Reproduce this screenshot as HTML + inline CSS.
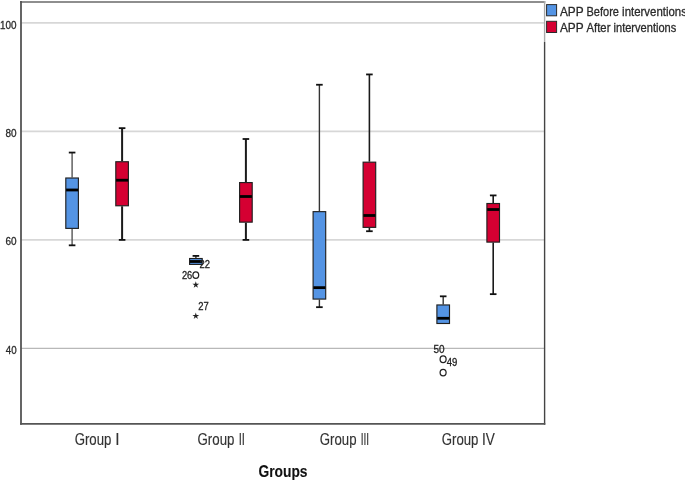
<!DOCTYPE html>
<html><head><meta charset="utf-8"><title>Box plot</title>
<style>
html,body{margin:0;padding:0;background:#fff;}
svg{display:block;font-family:"Liberation Sans",sans-serif;filter:blur(0.45px);}
</style></head>
<body>
<svg width="685" height="481" viewBox="0 0 685 481">
<rect x="0" y="0" width="685" height="481" fill="#fff"/>
<!-- gridlines -->
<line x1="21" y1="22.90" x2="544.6" y2="22.90" stroke="#d7d7d7" stroke-width="1.8"/>
<line x1="21" y1="131.40" x2="544.6" y2="131.40" stroke="#d7d7d7" stroke-width="1.8"/>
<line x1="21" y1="239.90" x2="544.6" y2="239.90" stroke="#d7d7d7" stroke-width="1.8"/>
<line x1="21" y1="348.40" x2="544.6" y2="348.40" stroke="#b8b8b8" stroke-width="1.2"/>
<!-- frame -->
<line x1="20.1" y1="1.9" x2="545.3" y2="1.9" stroke="#8e8e8e" stroke-width="2"/>
<line x1="544.6" y1="1" x2="544.6" y2="42" stroke="#aaa" stroke-width="1.4"/>
<line x1="544.6" y1="42" x2="544.6" y2="424.7" stroke="#444" stroke-width="1.4"/>
<line x1="21" y1="1" x2="21" y2="424.7" stroke="#555" stroke-width="1.8"/>
<line x1="20.1" y1="423.8" x2="545.3" y2="423.8" stroke="#555" stroke-width="1.8"/>
<!-- boxes -->
<line x1="72.10" y1="152.56" x2="72.10" y2="177.51" stroke="#555" stroke-width="1.4"/>
<line x1="72.10" y1="228.89" x2="72.10" y2="245.32" stroke="#555" stroke-width="1.4"/>
<line x1="68.80" y1="245.32" x2="75.40" y2="245.32" stroke="#111" stroke-width="1.8"/>
<line x1="68.80" y1="152.56" x2="75.40" y2="152.56" stroke="#111" stroke-width="1.8"/>
<rect x="65.80" y="178.01" width="12.60" height="50.37" fill="#5494e4" stroke="#202020" stroke-width="1.15"/>
<line x1="66.10" y1="189.99" x2="78.10" y2="189.99" stroke="#000" stroke-width="2.8"/>
<line x1="122.10" y1="128.15" x2="122.10" y2="161.24" stroke="#1a1a1a" stroke-width="2.0"/>
<line x1="122.10" y1="206.26" x2="122.10" y2="239.90" stroke="#1a1a1a" stroke-width="2.0"/>
<line x1="118.80" y1="239.90" x2="125.40" y2="239.90" stroke="#111" stroke-width="1.8"/>
<line x1="118.80" y1="128.15" x2="125.40" y2="128.15" stroke="#111" stroke-width="1.8"/>
<rect x="115.80" y="161.74" width="12.60" height="44.03" fill="#d50032" stroke="#202020" stroke-width="1.15"/>
<line x1="116.10" y1="180.22" x2="128.10" y2="180.22" stroke="#000" stroke-width="2.8"/>
<line x1="195.90" y1="255.90" x2="195.90" y2="258.02" stroke="#333" stroke-width="1.4"/>
<line x1="192.60" y1="255.90" x2="199.20" y2="255.90" stroke="#111" stroke-width="1.8"/>
<rect x="189.60" y="258.52" width="12.60" height="5.89" fill="#5494e4" stroke="#202020" stroke-width="1.15"/>
<line x1="189.90" y1="261.49" x2="201.90" y2="261.49" stroke="#000" stroke-width="2.8"/>
<line x1="245.90" y1="139.00" x2="245.90" y2="182.07" stroke="#1a1a1a" stroke-width="2.0"/>
<line x1="245.90" y1="222.65" x2="245.90" y2="239.90" stroke="#1a1a1a" stroke-width="2.0"/>
<line x1="242.60" y1="239.90" x2="249.20" y2="239.90" stroke="#111" stroke-width="1.8"/>
<line x1="242.60" y1="139.00" x2="249.20" y2="139.00" stroke="#111" stroke-width="1.8"/>
<rect x="239.60" y="182.57" width="12.60" height="39.58" fill="#d50032" stroke="#202020" stroke-width="1.15"/>
<line x1="239.90" y1="196.50" x2="251.90" y2="196.50" stroke="#000" stroke-width="2.8"/>
<line x1="319.40" y1="84.75" x2="319.40" y2="211.15" stroke="#333" stroke-width="1.4"/>
<line x1="319.40" y1="299.57" x2="319.40" y2="307.17" stroke="#333" stroke-width="1.4"/>
<line x1="316.10" y1="307.17" x2="322.70" y2="307.17" stroke="#111" stroke-width="1.8"/>
<line x1="316.10" y1="84.75" x2="322.70" y2="84.75" stroke="#111" stroke-width="1.8"/>
<rect x="313.10" y="211.65" width="12.60" height="87.43" fill="#5494e4" stroke="#202020" stroke-width="1.15"/>
<line x1="313.40" y1="287.64" x2="325.40" y2="287.64" stroke="#000" stroke-width="2.8"/>
<line x1="369.40" y1="74.44" x2="369.40" y2="161.67" stroke="#1a1a1a" stroke-width="1.6"/>
<line x1="369.40" y1="227.86" x2="369.40" y2="231.22" stroke="#1a1a1a" stroke-width="1.6"/>
<line x1="366.10" y1="231.22" x2="372.70" y2="231.22" stroke="#111" stroke-width="1.8"/>
<line x1="366.10" y1="74.44" x2="372.70" y2="74.44" stroke="#111" stroke-width="1.8"/>
<rect x="363.10" y="162.17" width="12.60" height="65.19" fill="#d50032" stroke="#202020" stroke-width="1.15"/>
<line x1="363.40" y1="215.49" x2="375.40" y2="215.49" stroke="#000" stroke-width="2.8"/>
<line x1="443.20" y1="296.32" x2="443.20" y2="304.46" stroke="#333" stroke-width="1.4"/>
<line x1="439.90" y1="296.32" x2="446.50" y2="296.32" stroke="#111" stroke-width="1.8"/>
<rect x="436.90" y="304.96" width="12.60" height="18.53" fill="#5494e4" stroke="#202020" stroke-width="1.15"/>
<line x1="437.20" y1="318.29" x2="449.20" y2="318.29" stroke="#000" stroke-width="2.8"/>
<line x1="493.20" y1="195.41" x2="493.20" y2="203.01" stroke="#1a1a1a" stroke-width="1.6"/>
<line x1="493.20" y1="242.61" x2="493.20" y2="294.15" stroke="#1a1a1a" stroke-width="1.6"/>
<line x1="489.90" y1="294.15" x2="496.50" y2="294.15" stroke="#111" stroke-width="1.8"/>
<line x1="489.90" y1="195.41" x2="496.50" y2="195.41" stroke="#111" stroke-width="1.8"/>
<rect x="486.90" y="203.51" width="12.60" height="38.60" fill="#d50032" stroke="#202020" stroke-width="1.15"/>
<line x1="487.20" y1="209.52" x2="499.20" y2="209.52" stroke="#000" stroke-width="2.8"/>
<!-- outliers -->
<ellipse cx="195.8" cy="275.1" rx="2.9" ry="3.3" fill="none" stroke="#222" stroke-width="1.25"/>
<polygon points="195.80,281.30 196.59,283.81 199.22,283.79 197.08,285.32 197.92,287.81 195.80,286.25 193.68,287.81 194.52,285.32 192.38,283.79 195.01,283.81" fill="#222" stroke="none"/>
<polygon points="195.80,312.40 196.59,314.91 199.22,314.89 197.08,316.42 197.92,318.91 195.80,317.35 193.68,318.91 194.52,316.42 192.38,314.89 195.01,314.91" fill="#222" stroke="none"/>
<ellipse cx="443.1" cy="359.2" rx="3.0" ry="3.3" fill="none" stroke="#222" stroke-width="1.25"/>
<ellipse cx="443.1" cy="372.6" rx="3.0" ry="3.3" fill="none" stroke="#222" stroke-width="1.25"/>
<text x="199.57" y="267.8" font-size="11" fill="#222" stroke="#222" stroke-width="0.3" textLength="10.45" lengthAdjust="spacingAndGlyphs">22</text>
<text x="181.88" y="278.6" font-size="11" fill="#222" stroke="#222" stroke-width="0.3" textLength="10.34" lengthAdjust="spacingAndGlyphs">26</text>
<text x="198.17" y="310.3" font-size="11" fill="#222" stroke="#222" stroke-width="0.3" textLength="10.45" lengthAdjust="spacingAndGlyphs">27</text>
<text x="433.55" y="352.7" font-size="11" fill="#222" stroke="#222" stroke-width="0.3" textLength="11.11" lengthAdjust="spacingAndGlyphs">50</text>
<text x="446.78" y="365.6" font-size="11" fill="#222" stroke="#222" stroke-width="0.3" textLength="10.65" lengthAdjust="spacingAndGlyphs">49</text>
<!-- axis labels -->
<text x="0.11" y="28.6" font-size="11" fill="#2a2a2a" stroke="#2a2a2a" stroke-width="0.3" textLength="16.52" lengthAdjust="spacingAndGlyphs">100</text>
<text x="5.55" y="136.8" font-size="11" fill="#2a2a2a" stroke="#2a2a2a" stroke-width="0.3" textLength="11.11" lengthAdjust="spacingAndGlyphs">80</text>
<text x="5.55" y="245.2" font-size="11" fill="#2a2a2a" stroke="#2a2a2a" stroke-width="0.3" textLength="11.11" lengthAdjust="spacingAndGlyphs">60</text>
<text x="5.78" y="353.8" font-size="11" fill="#2a2a2a" stroke="#2a2a2a" stroke-width="0.3" textLength="10.87" lengthAdjust="spacingAndGlyphs">40</text>
<text y="444.8" font-size="16.5" fill="#333" stroke="#333" stroke-width="0.15"><tspan x="74.7" textLength="36.69" lengthAdjust="spacingAndGlyphs">Group</tspan> <tspan x="115.35" textLength="4.29" lengthAdjust="spacingAndGlyphs">I</tspan></text>
<text y="444.8" font-size="16.5" fill="#333" stroke="#333" stroke-width="0.15"><tspan x="197.55" textLength="36.89" lengthAdjust="spacingAndGlyphs">Group</tspan> <tspan x="238.78" textLength="6.21" lengthAdjust="spacingAndGlyphs">II</tspan></text>
<text y="444.8" font-size="16.5" fill="#333" stroke="#333" stroke-width="0.15"><tspan x="319.8" textLength="36.69" lengthAdjust="spacingAndGlyphs">Group</tspan> <tspan x="360.73" textLength="8.45" lengthAdjust="spacingAndGlyphs">III</tspan></text>
<text y="444.8" font-size="16.5" fill="#333" stroke="#333" stroke-width="0.15"><tspan x="441.75" textLength="36.64" lengthAdjust="spacingAndGlyphs">Group</tspan> <tspan x="481.96" textLength="12.86" lengthAdjust="spacingAndGlyphs">IV</tspan></text>
<text x="258.45" y="476.8" font-size="15.6" font-weight="bold" fill="#111" stroke="#111" stroke-width="0.1" textLength="49.08" lengthAdjust="spacingAndGlyphs">Groups</text>
<!-- legend -->
<rect x="546.6" y="4.6" width="10" height="11.2" fill="#5494e4" stroke="#2a2a2a" stroke-width="1"/>
<rect x="546.6" y="21.3" width="10" height="11.2" fill="#d50032" stroke="#2a2a2a" stroke-width="1"/>
<text y="16.0" font-size="12.6" fill="#2a2a2a" stroke="#2a2a2a" stroke-width="0.3"><tspan x="559.9" textLength="23.45" lengthAdjust="spacingAndGlyphs">APP</tspan> <tspan x="586.53" textLength="32.41" lengthAdjust="spacingAndGlyphs">Before</tspan> <tspan x="622.11" textLength="64.78" lengthAdjust="spacingAndGlyphs">interventions</tspan></text>
<text y="32.0" font-size="12.6" fill="#2a2a2a" stroke="#2a2a2a" stroke-width="0.3"><tspan x="559.9" textLength="23.45" lengthAdjust="spacingAndGlyphs">APP</tspan> <tspan x="586.6" textLength="23.81" lengthAdjust="spacingAndGlyphs">After</tspan> <tspan x="613.53" textLength="62.74" lengthAdjust="spacingAndGlyphs">interventions</tspan></text>
</svg>
</body></html>
